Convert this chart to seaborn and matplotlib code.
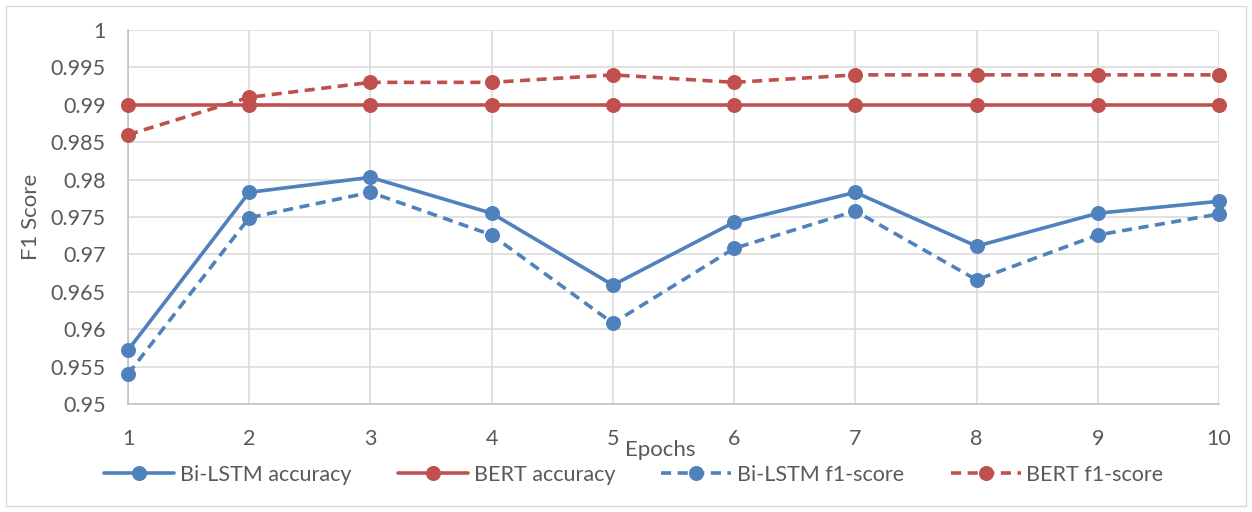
import matplotlib
matplotlib.use("Agg")
import matplotlib.pyplot as plt
import seaborn as sns
import pandas as pd
from matplotlib.lines import Line2D
from matplotlib.patches import Rectangle

epochs = [1, 2, 3, 4, 5, 6, 7, 8, 9, 10]
bilstm_acc = [0.9572, 0.9783, 0.9803, 0.9755, 0.9659, 0.9743, 0.9783, 0.9711, 0.9755, 0.9771]
bert_acc = [0.990, 0.990, 0.990, 0.990, 0.990, 0.990, 0.990, 0.990, 0.990, 0.990]
bilstm_f1 = [0.9540, 0.9749, 0.9783, 0.9726, 0.9608, 0.9708, 0.9758, 0.9666, 0.9726, 0.9754]
bert_f1 = [0.986, 0.991, 0.993, 0.993, 0.994, 0.993, 0.994, 0.994, 0.994, 0.994]
series_names = ["Bi-LSTM accuracy", "BERT accuracy", "Bi-LSTM f1-score", "BERT f1-score"]
yticks = [0.95, 0.955, 0.96, 0.965, 0.97, 0.975, 0.98, 0.985, 0.99, 0.995, 1.0]
ytick_labels = ["0.95", "0.955", "0.96", "0.965", "0.97", "0.975", "0.98", "0.985", "0.99", "0.995", "1"]

BLUE = "#4F81BD"
RED = "#C0504D"
TXT = "#595959"
colors = {series_names[0]: BLUE, series_names[1]: RED, series_names[2]: BLUE, series_names[3]: RED}
DASH = (2.8, 1.8)
dash_map = {series_names[0]: "", series_names[1]: "", series_names[2]: DASH, series_names[3]: DASH}

rows = []
for name, vals in zip(series_names, [bilstm_acc, bert_acc, bilstm_f1, bert_f1]):
    for e, v in zip(epochs, vals):
        rows.append({"Epochs": e, "F1 Score": v, "series": name})
df = pd.DataFrame(rows)

sns.set_theme(style="white")
plt.rcParams["font.family"] = ["Lato", "DejaVu Sans"]

FS = 15.5
LW = 2.6
MS = 10.8

fig = plt.figure(figsize=(12.52, 5.12), dpi=100)
ax = fig.add_axes([128 / 1252, 1 - 404 / 512, 1091 / 1252, 374 / 512])

sns.lineplot(data=df, x="Epochs", y="F1 Score", hue="series", style="series",
             palette=colors, dashes=dash_map, markers={n: "o" for n in series_names},
             hue_order=series_names, style_order=series_names,
             linewidth=LW, markersize=MS, markeredgewidth=0, ax=ax, legend=False)
for ln in ax.lines:
    ln.set_clip_on(False)
    ln.set_zorder(3)

ax.set_xlim(1, 10)
ax.set_ylim(0.95, 1.0)
ax.set_xticks(epochs)
ax.set_xticklabels([str(e) for e in epochs])
ax.set_yticks(yticks)
ax.set_yticklabels(ytick_labels)
ax.grid(True, color="#D9D9D9", linewidth=1.1)
ax.set_axisbelow(True)
for s in ["top", "right"]:
    ax.spines[s].set_visible(False)
for s in ["left", "bottom"]:
    ax.spines[s].set_color("#BFBFBF")
    ax.spines[s].set_linewidth(1.1)
ax.tick_params(axis="both", length=0, labelsize=FS, colors=TXT)
ax.tick_params(axis="x", pad=18)
ax.tick_params(axis="y", pad=16)
ax.set_xlabel("Epochs", fontsize=FS + 0.5, color=TXT)
ax.xaxis.set_label_coords((660 - 128) / 1091, -0.095)
ax.set_ylabel("F1 Score", fontsize=FS + 0.5, color=TXT, labelpad=7)

handles = []
for n in series_names:
    handles.append(Line2D([0], [0], color=colors[n], linewidth=LW,
                          linestyle="-" if dash_map[n] == "" else (0, dash_map[n]),
                          marker="o", markersize=MS, markeredgewidth=0))
px_per_em = FS * 100 / 72
fig.legend(handles, series_names, loc="center", bbox_to_anchor=(634 / 1252, 1 - 475 / 512),
           ncol=4, frameon=False, fontsize=FS, labelcolor=TXT, handlelength=70 / px_per_em,
           handletextpad=6 / px_per_em, columnspacing=46 / px_per_em, borderpad=0, borderaxespad=0)

fig.patches.append(Rectangle((6 / 1252, 6 / 512), 1240 / 1252, 500 / 512, transform=fig.transFigure,
                             fill=False, edgecolor="#D9D9D9", linewidth=1.0))

fig.savefig("out.png", dpi=100, facecolor="white")
